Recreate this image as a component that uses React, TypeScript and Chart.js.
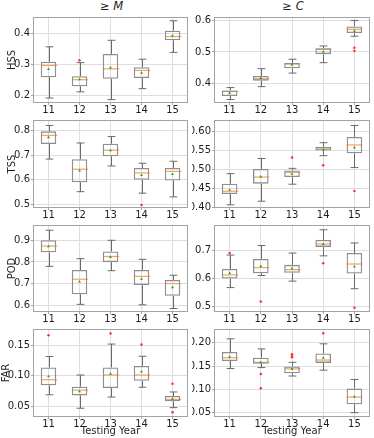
import React, { useEffect, useRef } from 'react';
import { Chart, registerables } from 'chart.js';

Chart.register(...registerables);

const YEARS = ['11', '12', '13', '14', '15'];

// each row: [whisker low, Q1, median, Q3, whisker high, mean]
const HSS_M = [
  [0.192, 0.259, 0.297, 0.309, 0.357, 0.285],
  [0.212, 0.230, 0.251, 0.262, 0.306, 0.252],
  [0.187, 0.254, 0.286, 0.334, 0.378, 0.290],
  [0.222, 0.256, 0.281, 0.291, 0.317, 0.273],
  [0.339, 0.378, 0.390, 0.409, 0.441, 0.393],
];
const HSS_C = [
  [0.349, 0.360, 0.375, 0.378, 0.387, 0.369],
  [0.390, 0.409, 0.415, 0.424, 0.447, 0.417],
  [0.433, 0.448, 0.462, 0.465, 0.477, 0.459],
  [0.466, 0.493, 0.509, 0.512, 0.519, 0.501],
  [0.550, 0.560, 0.572, 0.581, 0.600, 0.567],
];
const TSS_M = [
  [0.684, 0.745, 0.780, 0.796, 0.820, 0.772],
  [0.552, 0.590, 0.643, 0.683, 0.749, 0.637],
  [0.656, 0.695, 0.720, 0.746, 0.775, 0.719],
  [0.546, 0.600, 0.628, 0.648, 0.667, 0.619],
  [0.531, 0.597, 0.634, 0.648, 0.675, 0.623],
];
const TSS_C = [
  [0.4065, 0.435, 0.4425, 0.4625, 0.489, 0.446],
  [0.416, 0.4625, 0.480, 0.5015, 0.529, 0.481],
  [0.461, 0.480, 0.4925, 0.4975, 0.503, 0.488],
  [0.5365, 0.550, 0.5565, 0.560, 0.571, 0.5525],
  [0.505, 0.543, 0.565, 0.586, 0.6165, 0.558],
];
const POD_M = [
  [0.780, 0.844, 0.873, 0.899, 0.945, 0.871],
  [0.606, 0.652, 0.721, 0.763, 0.815, 0.710],
  [0.760, 0.799, 0.825, 0.848, 0.899, 0.822],
  [0.604, 0.694, 0.734, 0.763, 0.812, 0.722],
  [0.587, 0.645, 0.701, 0.718, 0.739, 0.684],
];
const POD_C = [
  [0.567, 0.599, 0.612, 0.633, 0.683, 0.618],
  [0.610, 0.618, 0.638, 0.669, 0.717, 0.643],
  [0.590, 0.620, 0.631, 0.648, 0.690, 0.635],
  [0.680, 0.712, 0.7225, 0.737, 0.773, 0.722],
  [0.563, 0.617, 0.651, 0.690, 0.726, 0.642],
];
const FAR_M = [
  [0.0688, 0.0843, 0.0936, 0.114, 0.132, 0.099],
  [0.0465, 0.0677, 0.0765, 0.0822, 0.1014, 0.0744],
  [0.065, 0.0797, 0.1014, 0.114, 0.1526, 0.1034],
  [0.0812, 0.092, 0.1014, 0.1163, 0.1324, 0.107],
  [0.0475, 0.0579, 0.061, 0.0667, 0.0734, 0.062],
];
const FAR_C = [
  [0.1446, 0.161, 0.168, 0.1803, 0.2087, 0.170],
  [0.1467, 0.155, 0.158, 0.168, 0.187, 0.158],
  [0.1285, 0.1345, 0.144, 0.149, 0.158, 0.1435],
  [0.1412, 0.1568, 0.163, 0.177, 0.198, 0.1676],
  [0.0494, 0.0676, 0.083, 0.1013, 0.121, 0.0838],
];

// outliers: [year index, value]
const HSS_M_FLIERS = [[1, 0.314]];
const HSS_C_FLIERS = [[4, 0.513], [4, 0.503]];
const TSS_M_FLIERS = [[3, 0.498]];
const TSS_C_FLIERS = [[2, 0.5315], [3, 0.5115], [4, 0.443]];
const POD_M_FLIERS: number[][] = [];
const POD_C_FLIERS = [[0, 0.690], [1, 0.517], [3, 0.654], [4, 0.495]];
const FAR_M_FLIERS = [[0, 0.167], [2, 0.170], [3, 0.152], [4, 0.0868], [4, 0.040]];
const FAR_C_FLIERS = [[1, 0.133], [1, 0.102], [2, 0.1757], [2, 0.1716], [2, 0.169], [3, 0.221]];

// y ranges and tick values
const HSS_M_RANGE = [0.176, 0.453];
const HSS_C_RANGE = [0.338, 0.611];
const TSS_M_RANGE = [0.486, 0.842];
const TSS_C_RANGE = [0.398, 0.631];
const POD_M_RANGE = [0.571, 0.969];
const POD_C_RANGE = [0.480, 0.790];
const FAR_M_RANGE = [0.032, 0.1775];
const FAR_C_RANGE = [0.040, 0.230];

const HSS_M_TICKS = ['0.2', '0.3', '0.4'];
const HSS_C_TICKS = ['0.4', '0.5', '0.6'];
const TSS_M_TICKS = ['0.5', '0.6', '0.7', '0.8'];
const TSS_C_TICKS = ['0.40', '0.45', '0.50', '0.55', '0.60'];
const POD_M_TICKS = ['0.6', '0.7', '0.8', '0.9'];
const POD_C_TICKS = ['0.5', '0.6', '0.7'];
const FAR_M_TICKS = ['0.05', '0.10', '0.15'];
const FAR_C_TICKS = ['0.05', '0.10', '0.15', '0.20'];

const METRICS = ['HSS', 'TSS', 'POD', 'FAR'];
const X_TITLE = 'Testing Year';

const BOX = '#8e8e8e';
const WHISK = '#6a6a6a';
const MED = '#f8a25c';
const MEAN = '#2ca02c';
const FLIER = '#ff3030';
const GRID = '#dedede';
const SPINE = '#a3a3a3';
const TEXT = '#1e1e1e';
const FONT = '"DejaVu Sans", sans-serif';
const FS = 10;

Chart.defaults.font.family = FONT;

const ROW_TOPS = [12, 115, 220, 324];
const ROW_BOTTOMS = [103, 208, 312, 417];

const boxExtras = {
  id: 'boxExtras',
  beforeDatasetsDraw(chart: any, _a: any, opts: any) {
    const { ctx, chartArea, scales } = chart;
    const xs = scales.x;
    const ys = scales.y;
    const stats: number[][] = opts.stats;
    const step = xs.getPixelForValue(1) - xs.getPixelForValue(0);
    const boxHalf = step * 0.25;
    const capHalf = step * 0.125;
    ctx.save();
    ctx.beginPath();
    ctx.rect(chartArea.left, chartArea.top, chartArea.right - chartArea.left, chartArea.bottom - chartArea.top);
    ctx.clip();
    stats.forEach((s, i) => {
      const cx = Math.round(xs.getPixelForValue(i)) + 0.5;
      const lo = ys.getPixelForValue(s[0]);
      const q1 = ys.getPixelForValue(s[1]);
      const md = ys.getPixelForValue(s[2]);
      const q3 = ys.getPixelForValue(s[3]);
      const hi = ys.getPixelForValue(s[4]);
      ctx.strokeStyle = WHISK;
      ctx.lineWidth = 1;
      ctx.beginPath();
      ctx.moveTo(cx, q1);
      ctx.lineTo(cx, lo);
      ctx.moveTo(cx, q3);
      ctx.lineTo(cx, hi);
      ctx.moveTo(cx - capHalf, lo);
      ctx.lineTo(cx + capHalf, lo);
      ctx.moveTo(cx - capHalf, hi);
      ctx.lineTo(cx + capHalf, hi);
      ctx.stroke();
      ctx.strokeStyle = MED;
      ctx.lineWidth = 1.2;
      ctx.beginPath();
      ctx.moveTo(cx - boxHalf, md);
      ctx.lineTo(cx + boxHalf, md);
      ctx.stroke();
    });
    ctx.restore();
  },
  afterDatasetsDraw(chart: any) {
    const { ctx, chartArea } = chart;
    ctx.save();
    ctx.strokeStyle = SPINE;
    ctx.lineWidth = 1;
    const l = Math.round(chartArea.left) + 0.5;
    const t = Math.round(chartArea.top) + 0.5;
    const r = Math.round(chartArea.right) - 0.5;
    const b = Math.round(chartArea.bottom) - 0.5;
    ctx.strokeRect(l, t, r - l, b - t);
    ctx.restore();
  },
};

type PanelDef = {
  stats: number[][];
  fliers: number[][];
  range: number[];
  ticks: string[];
  col: number;
  row: number;
};

const PANELS: PanelDef[] = [
  { stats: HSS_M, fliers: HSS_M_FLIERS, range: HSS_M_RANGE, ticks: HSS_M_TICKS, col: 0, row: 0 },
  { stats: HSS_C, fliers: HSS_C_FLIERS, range: HSS_C_RANGE, ticks: HSS_C_TICKS, col: 1, row: 0 },
  { stats: TSS_M, fliers: TSS_M_FLIERS, range: TSS_M_RANGE, ticks: TSS_M_TICKS, col: 0, row: 1 },
  { stats: TSS_C, fliers: TSS_C_FLIERS, range: TSS_C_RANGE, ticks: TSS_C_TICKS, col: 1, row: 1 },
  { stats: POD_M, fliers: POD_M_FLIERS, range: POD_M_RANGE, ticks: POD_M_TICKS, col: 0, row: 2 },
  { stats: POD_C, fliers: POD_C_FLIERS, range: POD_C_RANGE, ticks: POD_C_TICKS, col: 1, row: 2 },
  { stats: FAR_M, fliers: FAR_M_FLIERS, range: FAR_M_RANGE, ticks: FAR_M_TICKS, col: 0, row: 3 },
  { stats: FAR_C, fliers: FAR_C_FLIERS, range: FAR_C_RANGE, ticks: FAR_C_TICKS, col: 1, row: 3 },
];

function Panel({ p }: { p: PanelDef }) {
  const ref = useRef<HTMLCanvasElement>(null);
  const left = p.col === 0 ? 0 : 192;
  const width = p.col === 0 ? 192 : 182;
  const yW = p.col === 0 ? 33 : 22;
  const lastRow = p.row === 3;
  const xH = lastRow ? 20 : 14;
  const plotH = ROW_BOTTOMS[p.row] - ROW_TOPS[p.row];
  const top = ROW_TOPS[p.row] - 2;
  const height = 2 + plotH + xH;

  useEffect(() => {
    const ctx = ref.current!.getContext('2d')!;
    const tickVals = p.ticks.map((t) => parseFloat(t));
    const chart = new Chart(ctx, {
      type: 'bar',
      data: {
        labels: YEARS,
        datasets: [
          {
            type: 'line',
            data: p.fliers.map(([i, v]) => ({ x: YEARS[i], y: v })),
            showLine: false,
            pointStyle: 'circle',
            pointRadius: 1.25,
            pointBackgroundColor: FLIER,
            pointBorderWidth: 0,
            order: 0,
          } as any,
          {
            type: 'line',
            data: p.stats.map((s, i) => ({ x: YEARS[i], y: s[5] })),
            showLine: false,
            pointStyle: 'triangle',
            pointRadius: 1.7,
            pointBackgroundColor: MEAN,
            pointBorderColor: MEAN,
            pointBorderWidth: 0,
            order: 1,
          } as any,
          {
            type: 'bar',
            data: p.stats.map((s) => [s[1], s[3]]),
            backgroundColor: 'rgba(0,0,0,0)',
            borderColor: BOX,
            borderWidth: 1.3,
            borderSkipped: false,
            barPercentage: 0.5,
            categoryPercentage: 1,
            order: 2,
          } as any,
        ],
      },
      options: {
        responsive: false,
        maintainAspectRatio: false,
        animation: false,
        layout: { padding: { top: 2, right: 2, left: 0, bottom: 0 } },
        plugins: {
          legend: { display: false },
          tooltip: { enabled: false },
          boxExtras: { stats: p.stats },
        } as any,
        scales: {
          x: {
            type: 'category',
            offset: true,
            grid: { offset: false, color: GRID, drawTicks: true, tickLength: 2, tickColor: SPINE },
            border: { display: false },
            ticks: { color: TEXT, font: { size: FS }, padding: -1, maxRotation: 0, autoSkip: false },
            title: {
              display: lastRow,
              text: X_TITLE,
              color: TEXT,
              font: { size: FS },
              padding: { top: 0, bottom: 0 },
            },
            afterFit: (s: any) => {
              s.height = xH;
            },
          },
          y: {
            type: 'linear',
            min: p.range[0],
            max: p.range[1],
            afterBuildTicks: (s: any) => {
              s.ticks = tickVals.map((v) => ({ value: v }));
            },
            grid: { color: GRID, drawTicks: true, tickLength: 2, tickColor: SPINE },
            border: { display: false },
            ticks: {
              color: TEXT,
              font: { size: FS },
              padding: 1,
              callback: (v: any) => {
                const i = tickVals.indexOf(v);
                return i >= 0 ? p.ticks[i] : '';
              },
            },
            title: {
              display: p.col === 0,
              text: METRICS[p.row],
              color: TEXT,
              font: { size: FS },
              padding: { top: lastRow ? 0 : 6, bottom: 0 },
            },
            afterFit: (s: any) => {
              s.width = yW;
            },
          },
        },
      } as any,
      plugins: [boxExtras as any],
    });
    return () => chart.destroy();
  }, []);

  return (
    <canvas
      ref={ref}
      width={width}
      height={height}
      style={{ position: 'absolute', left, top, width, height }}
    />
  );
}

export default function App() {
  const titleStyle: React.CSSProperties = {
    position: 'absolute',
    top: 0,
    height: 12,
    lineHeight: '12px',
    fontFamily: FONT,
    fontSize: 11.5,
    color: TEXT,
    textAlign: 'center',
    whiteSpace: 'nowrap',
  };
  return (
    <div
      style={{
        position: 'fixed',
        left: 0,
        top: 0,
        width: 374,
        height: 438,
        background: '#fff',
        overflow: 'hidden',
      }}
    >
      <div style={{ ...titleStyle, left: 33, width: 157 }}>
        ≥ <i>M</i>
      </div>
      <div style={{ ...titleStyle, left: 214, width: 158 }}>
        ≥ <i>C</i>
      </div>
      {PANELS.map((p, i) => (
        <Panel key={i} p={p} />
      ))}
    </div>
  );
}
